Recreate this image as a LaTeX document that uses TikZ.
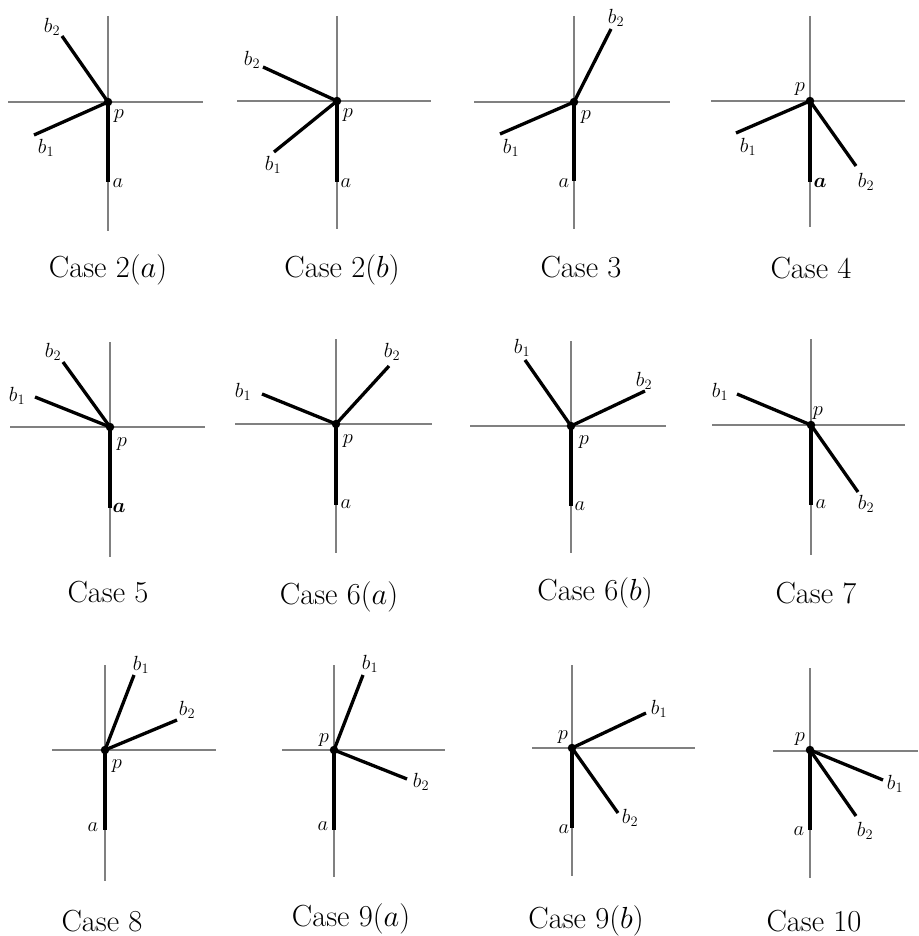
\RequirePackage{fix-cm}
\documentclass[tikz,border=0pt]{standalone}
\usepackage{amsmath}
\begin{document}
\begin{tikzpicture}[x=1pt,y=-1pt,
  axis/.style={draw=black!50, line width=1.3pt},
  seg/.style={draw=black, line width=3.3pt},
  dotn/.style={circle, fill=black, inner sep=0pt, minimum size=8.5pt},
  lbl/.style={inner sep=0pt, font=\fontsize{20.5}{24}\selectfont},
  captxt/.style={inner sep=0pt, font=\fontsize{30.5}{36}\selectfont}]
\useasboundingbox (0,0) rectangle (918,936);

% ---------- Case 2(a)
\coordinate (hl1) at (8,102); \coordinate (hr1) at (203,102);
\coordinate (vt1) at (108,16); \coordinate (vb1) at (108,231);
\coordinate (p1) at (108,102); \coordinate (a1) at (108,182);
\coordinate (bA1) at (34,135); \coordinate (bB1) at (62,36);
\draw[axis] (hl1) -- (hr1); \draw[axis] (vt1) -- (vb1);
\draw[seg] (p1) -- (a1); \draw[seg] (p1) -- (bA1); \draw[seg] (p1) -- (bB1);
\node[dotn] (dp1) at (p1) {};
\node[lbl] (lb21) at (52,27) {$b_2$};
\node[lbl] (lb11) at (46,148) {$b_1$};
\node[lbl] (lp1) at (119,116) {$p$};
\node[lbl] (la1) at (118,183) {$a$};
\node[captxt] (c1) at (108,270) {Case 2$(a)$};

% ---------- Case 2(b)
\coordinate (hl2) at (237,101); \coordinate (hr2) at (431,101);
\coordinate (vt2) at (337,16); \coordinate (vb2) at (337,229);
\coordinate (p2) at (337,101); \coordinate (a2) at (337,182);
\coordinate (bA2) at (274,152); \coordinate (bB2) at (263,67);
\draw[axis] (hl2) -- (hr2); \draw[axis] (vt2) -- (vb2);
\draw[seg] (p2) -- (a2); \draw[seg] (p2) -- (bA2); \draw[seg] (p2) -- (bB2);
\node[dotn] (dp2) at (p2) {};
\node[lbl] (lb22) at (252,60) {$b_2$};
\node[lbl] (lb12) at (273,165) {$b_1$};
\node[lbl] (lp2) at (348,115) {$p$};
\node[lbl] (la2) at (346,183) {$a$};
\node[captxt] (c2) at (342,270) {Case 2$(b)$};

% ---------- Case 3
\coordinate (hl3) at (474,102); \coordinate (hr3) at (670,102);
\coordinate (vt3) at (574,16); \coordinate (vb3) at (574,229);
\coordinate (p3) at (574,102); \coordinate (a3) at (574,181);
\coordinate (bA3) at (500,134); \coordinate (bB3) at (611,29);
\draw[axis] (hl3) -- (hr3); \draw[axis] (vt3) -- (vb3);
\draw[seg] (p3) -- (a3); \draw[seg] (p3) -- (bA3); \draw[seg] (p3) -- (bB3);
\node[dotn] (dp3) at (p3) {};
\node[lbl] (lb23) at (616,18) {$b_2$};
\node[lbl] (lb13) at (511,148) {$b_1$};
\node[lbl] (lp3) at (586,117) {$p$};
\node[lbl] (la3) at (564,183) {$a$};
\node[captxt] (c3) at (581,267) {Case 3};

% ---------- Case 4
\coordinate (hl4) at (711,101); \coordinate (hr4) at (905,101);
\coordinate (vt4) at (810,16); \coordinate (vb4) at (810,227);
\coordinate (p4) at (810,101); \coordinate (a4) at (810,182);
\coordinate (bA4) at (736,133); \coordinate (bB4) at (856,166);
\draw[axis] (hl4) -- (hr4); \draw[axis] (vt4) -- (vb4);
\draw[seg] (p4) -- (a4); \draw[seg] (p4) -- (bA4); \draw[seg] (p4) -- (bB4);
\node[dotn] (dp4) at (p4) {};
\node[lbl] (lb24) at (866,182) {$b_2$};
\node[lbl] (lb14) at (748,147) {$b_1$};
\node[lbl] (lp4) at (800,89) {$p$};
\node[lbl] (la4) at (820,183) {$\boldsymbol{a}$};
\node[captxt] (c4) at (811,268) {Case 4};

% ---------- Case 5
\coordinate (hl5) at (10,427); \coordinate (hr5) at (205,427);
\coordinate (vt5) at (110,342); \coordinate (vb5) at (110,557);
\coordinate (p5) at (110,427); \coordinate (a5) at (110,508);
\coordinate (bA5) at (35,397); \coordinate (bB5) at (63,362);
\draw[axis] (hl5) -- (hr5); \draw[axis] (vt5) -- (vb5);
\draw[seg] (p5) -- (a5); \draw[seg] (p5) -- (bA5); \draw[seg] (p5) -- (bB5);
\node[dotn] (dp5) at (p5) {};
\node[lbl] (lb25) at (53,352) {$b_2$};
\node[lbl] (lb15) at (17,396) {$b_1$};
\node[lbl] (lp5) at (122,444) {$p$};
\node[lbl] (la5) at (119,508) {$\boldsymbol{a}$};
\node[captxt] (c5) at (108,592) {Case 5};

% ---------- Case 6(a)
\coordinate (hl6) at (235,424); \coordinate (hr6) at (432,424);
\coordinate (vt6) at (336,339); \coordinate (vb6) at (336,553);
\coordinate (p6) at (336,424); \coordinate (a6) at (336,505);
\coordinate (bA6) at (262,394); \coordinate (bB6) at (389,366);
\draw[axis] (hl6) -- (hr6); \draw[axis] (vt6) -- (vb6);
\draw[seg] (p6) -- (a6); \draw[seg] (p6) -- (bA6); \draw[seg] (p6) -- (bB6);
\node[dotn] (dp6) at (p6) {};
\node[lbl] (lb26) at (392,352) {$b_2$};
\node[lbl] (lb16) at (243,392) {$b_1$};
\node[lbl] (lp6) at (348,441) {$p$};
\node[lbl] (la6) at (346,504) {$a$};
\node[captxt] (c6) at (339,597) {Case 6$(a)$};

% ---------- Case 6(b)
\coordinate (hl7) at (470,426); \coordinate (hr7) at (666,426);
\coordinate (vt7) at (571,341); \coordinate (vb7) at (571,553);
\coordinate (p7) at (571,426); \coordinate (a7) at (571,506);
\coordinate (bA7) at (525,360); \coordinate (bB7) at (645,391);
\draw[axis] (hl7) -- (hr7); \draw[axis] (vt7) -- (vb7);
\draw[seg] (p7) -- (a7); \draw[seg] (p7) -- (bA7); \draw[seg] (p7) -- (bB7);
\node[dotn] (dp7) at (p7) {};
\node[lbl] (lb27) at (644,381) {$b_2$};
\node[lbl] (lb17) at (522,348) {$b_1$};
\node[lbl] (lp7) at (584,442) {$p$};
\node[lbl] (la7) at (580,506) {$a$};
\node[captxt] (c7) at (595,593) {Case 6$(b)$};

% ---------- Case 7
\coordinate (hl8) at (712,425); \coordinate (hr8) at (905,425);
\coordinate (vt8) at (811,339); \coordinate (vb8) at (811,555);
\coordinate (p8) at (811,425); \coordinate (a8) at (811,505);
\coordinate (bA8) at (737,394); \coordinate (bB8) at (858,492);
\draw[axis] (hl8) -- (hr8); \draw[axis] (vt8) -- (vb8);
\draw[seg] (p8) -- (a8); \draw[seg] (p8) -- (bA8); \draw[seg] (p8) -- (bB8);
\node[dotn] (dp8) at (p8) {};
\node[lbl] (lb28) at (866,504) {$b_2$};
\node[lbl] (lb18) at (720,392) {$b_1$};
\node[lbl] (lp8) at (818,413) {$p$};
\node[lbl] (la8) at (821,504) {$a$};
\node[captxt] (c8) at (816,593) {Case 7};

% ---------- Case 8
\coordinate (hl9) at (52,750); \coordinate (hr9) at (216,750);
\coordinate (vt9) at (105,665); \coordinate (vb9) at (105,881);
\coordinate (p9) at (105,750); \coordinate (a9) at (105,830);
\coordinate (bA9) at (134,675); \coordinate (bB9) at (177,720);
\draw[axis] (hl9) -- (hr9); \draw[axis] (vt9) -- (vb9);
\draw[seg] (p9) -- (a9); \draw[seg] (p9) -- (bA9); \draw[seg] (p9) -- (bB9);
\node[dotn] (dp9) at (p9) {};
\node[lbl] (lb29) at (187,710) {$b_2$};
\node[lbl] (lb19) at (141,665) {$b_1$};
\node[lbl] (lp9) at (117,766) {$p$};
\node[lbl] (la9) at (93,827) {$a$};
\node[captxt] (c9) at (102,921) {Case 8};

% ---------- Case 9(a)
\coordinate (hl10) at (282,750); \coordinate (hr10) at (445,750);
\coordinate (vt10) at (334,665); \coordinate (vb10) at (334,877);
\coordinate (p10) at (334,750); \coordinate (a10) at (334,830);
\coordinate (bA10) at (363,675); \coordinate (bB10) at (407,779);
\draw[axis] (hl10) -- (hr10); \draw[axis] (vt10) -- (vb10);
\draw[seg] (p10) -- (a10); \draw[seg] (p10) -- (bA10); \draw[seg] (p10) -- (bB10);
\node[dotn] (dp10) at (p10) {};
\node[lbl] (lb210) at (421,782) {$b_2$};
\node[lbl] (lb110) at (370,664) {$b_1$};
\node[lbl] (lp10) at (324,740) {$p$};
\node[lbl] (la10) at (323,826) {$a$};
\node[captxt] (c10) at (351,919) {Case 9$(a)$};

% ---------- Case 9(b)
\coordinate (hl11) at (532,748); \coordinate (hr11) at (695,748);
\coordinate (vt11) at (572,665); \coordinate (vb11) at (572,876);
\coordinate (p11) at (572,748); \coordinate (a11) at (572,828);
\coordinate (bA11) at (646,713); \coordinate (bB11) at (618,813);
\draw[axis] (hl11) -- (hr11); \draw[axis] (vt11) -- (vb11);
\draw[seg] (p11) -- (a11); \draw[seg] (p11) -- (bA11); \draw[seg] (p11) -- (bB11);
\node[dotn] (dp11) at (p11) {};
\node[lbl] (lb211) at (630,818) {$b_2$};
\node[lbl] (lb111) at (659,709) {$b_1$};
\node[lbl] (lp11) at (563,737) {$p$};
\node[lbl] (la11) at (564,829) {$a$};
\node[captxt] (c11) at (586,921) {Case 9$(b)$};

% ---------- Case 10
\coordinate (hl12) at (773,751); \coordinate (hr12) at (918,751);
\coordinate (vt12) at (810,668); \coordinate (vb12) at (810,878);
\coordinate (p12) at (810,750); \coordinate (a12) at (810,830);
\coordinate (bA12) at (883,780); \coordinate (bB12) at (856,816);
\draw[axis] (hl12) -- (hr12); \draw[axis] (vt12) -- (vb12);
\draw[seg] (p12) -- (a12); \draw[seg] (p12) -- (bA12); \draw[seg] (p12) -- (bB12);
\node[dotn] (dp12) at (p12) {};
\node[lbl] (lb212) at (865,831) {$b_2$};
\node[lbl] (lb112) at (895,784) {$b_1$};
\node[lbl] (lp12) at (800,739) {$p$};
\node[lbl] (la12) at (799,831) {$a$};
\node[captxt] (c12) at (814,921) {Case 10};
\end{tikzpicture}
\end{document}
